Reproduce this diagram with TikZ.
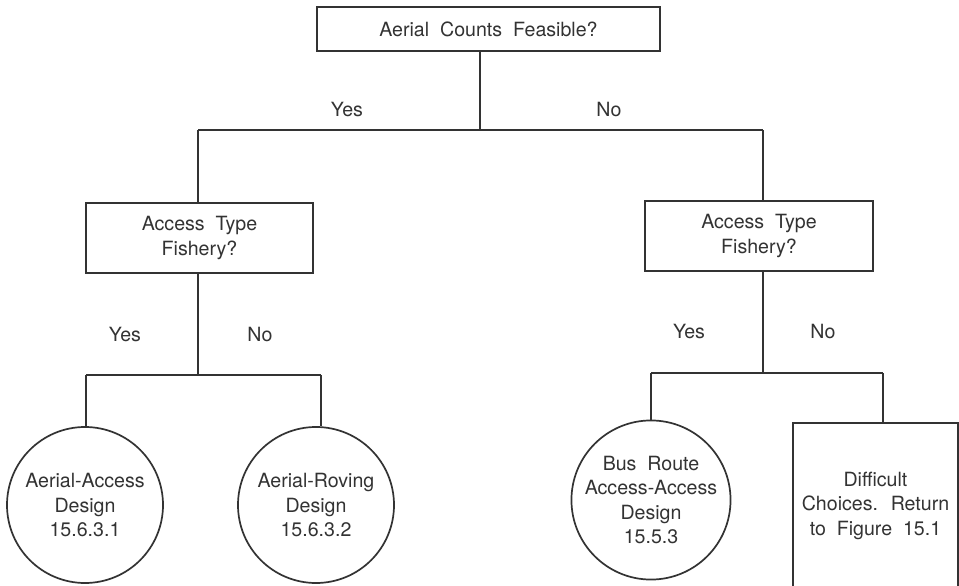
\documentclass[tikz,border=0pt]{standalone}
\usepackage{fontspec}
\setmainfont{TeX Gyre Heros}[WordSpace=2]
\definecolor{ink}{HTML}{333333}
\begin{document}
\begin{tikzpicture}[x=1pt,y=-1pt,
  every node/.style={text=ink,font=\fontsize{19.6}{24.5}\selectfont,inner sep=0pt,align=center},
  qbox/.style={draw=ink,line width=1.7pt,rectangle},
  endcirc/.style={draw=ink,line width=1.7pt,circle},
  lbl/.style={},
  conn/.style={draw=ink,line width=1.7pt}]
\clip (0,0) rectangle (959,586);
\useasboundingbox (0,0) rectangle (959,586);
\fill[white] (0,0) rectangle (959,586);

% decision boxes
\node[qbox,minimum width=343pt,minimum height=44pt] (top) at (488.5,29) {Aerial Counts Feasible?};
\node[qbox,minimum width=227pt,minimum height=70pt] (boxL) at (199.5,238) {Access Type\\Fishery?};
\node[qbox,minimum width=228pt,minimum height=70pt] (boxR) at (759,236) {Access Type\\Fishery?};

% outcomes
\node[endcirc,minimum size=156pt] (c1) at (85,505) {Aerial-Access\\Design\\15.6.3.1};
\node[endcirc,minimum size=156pt] (c2) at (316,505) {Aerial-Roving\\Design\\15.6.3.2};
\node[endcirc,minimum size=154pt] (c3) at (651,500) {Bus Route\\Access-Access\\Design\\15.5.3};
\node[qbox,minimum width=165pt,minimum height=165pt] (diff) at (875.5,505.5) {Difficult\\Choices. Return\\to Figure 15.1};

% junction coordinates
\coordinate (s0) at (480,130);
\coordinate (hL) at (198,130);
\coordinate (hR) at (763,130);
\coordinate (sL) at (198,375);
\coordinate (bL1) at (86,375);
\coordinate (bL2) at (321,375);
\coordinate (sR) at (763,373);
\coordinate (bR1) at (651,373);
\coordinate (bR2) at (883,373);

% connectors
\draw[conn] (top.south -| s0) -- (s0);
\draw[conn] (hL) -- (hR);
\draw[conn] (hL) -- (boxL.north -| hL);
\draw[conn] (hR) -- (boxR.north -| hR);

\draw[conn] (boxL.south -| sL) -- (sL);
\draw[conn] (bL1) -- (bL2);
\draw[conn] (bL1) -- (c1.north -| bL1);
\draw[conn] (bL2) -- (c2.north -| bL2);

\draw[conn] (boxR.south -| sR) -- (sR);
\draw[conn] (bR1) -- (bR2);
\draw[conn] (bR1) -- (c3.north);
\draw[conn] (bR2) -- (diff.north -| bR2);

% labels
\node[lbl] (y0) at (347,110) {Yes};
\node[lbl] (n0) at (609,110) {No};
\node[lbl] (y1) at (125,335) {Yes};
\node[lbl] (n1) at (260,335) {No};
\node[lbl] (y2) at (689,332) {Yes};
\node[lbl] (n2) at (823,332) {No};
\end{tikzpicture}
\end{document}
